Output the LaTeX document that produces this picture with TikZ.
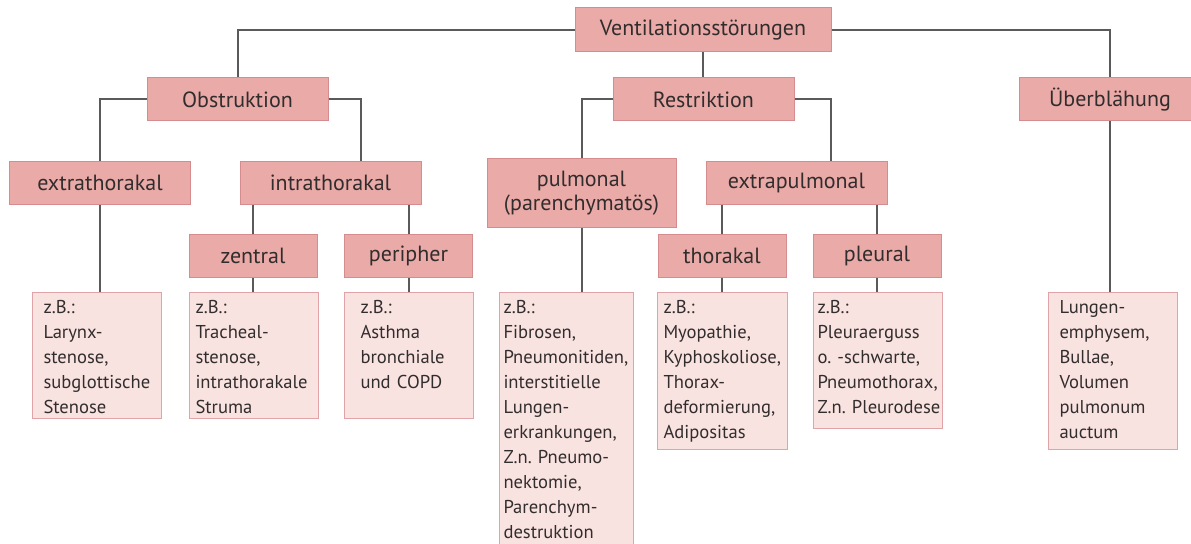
\documentclass[tikz,border=0pt]{standalone}
\usepackage{fontspec}
\setmainfont{PT Sans}
\usepackage{tikz}
\definecolor{kopf}{RGB}{233,170,168}
\definecolor{kopfrand}{RGB}{213,140,142}
\definecolor{blatt}{RGB}{249,227,225}
\definecolor{blattrand}{RGB}{224,163,168}
\definecolor{linie}{RGB}{90,90,90}
\definecolor{schrift}{RGB}{50,45,45}
\tikzstyle{kp}=[draw=kopfrand, fill=kopf, line width=0.5pt, inner sep=0pt, minimum width=90.5pt, minimum height=21.5pt, align=center, text=schrift, font=\fontsize{11}{12}\selectfont]
\tikzstyle{ukp}=[kp, minimum width=64pt]
\tikzstyle{bl}=[draw=blattrand, fill=blatt, line width=0.5pt, anchor=north west, inner ysep=0pt, text height=10.5pt, align=left, text=schrift, font=\fontsize{9.3}{12.5}\selectfont]
\tikzstyle{ln}=[draw=linie, line width=1pt]
\hyphenpenalty=10000
\exhyphenpenalty=10000
\frenchspacing

\begin{document}
\begin{tikzpicture} [x=0.5pt, y=-0.5pt]
%%position
\useasboundingbox (0,0) rectangle (1191,544);
\clip (0,0) rectangle (1191,544);
%%ebene 1
\node[kp, minimum width=128pt, minimum height=22pt] (vent) at (703,30) {Ventilationsstörungen};
%%ebene 2
\node[kp] (obst) at (237.5,99.5) {Obstruktion};
\node[kp] (restr) at (703.5,99.5) {Restriktion};
\node[kp] (ueber) at (1110,99.5) {Überblähung};
%%ebene 3
\node[kp] (extra) at (100,183) {extrathorakal};
\node[kp] (intra) at (330.5,183) {intrathorakal};
\node[kp, minimum width=94.5pt, minimum height=34.5pt] (pulm) at (581.5,193.5) {pulmonal\\(parenchymatös)};
\node[kp] (expul) at (796.5,183) {extrapulmonal};
%%ebene 4
\node[ukp] (zent) at (253,256) {zentral};
\node[ukp] (peri) at (408.5,256) {peripher};
\node[ukp] (thor) at (722,256) {thorakal};
\node[ukp] (pleu) at (877,256) {pleural};
%%beispiele
\node[bl, inner xsep=5.5pt, text width=53.5pt, text depth=52.5pt] (bextra) at (32,292) {z.B.:\\Larynx-\\stenose,\\subglottische\\Stenose};
\node[bl, inner xsep=3pt, text width=58.5pt, text depth=52.5pt] (bzent) at (189,292) {z.B.:\\Tracheal-\\stenose,\\intrathorakale\\Struma};
\node[bl, inner xsep=8pt, text width=48.5pt, text depth=52.5pt] (bperi) at (344,292) {z.B.:\\Asthma\\bronchiale\\und COPD};
\node[bl, inner xsep=2pt, text width=63pt, text depth=120pt] (bpulm) at (499,292) {z.B.:\\Fibrosen,\\Pneumonitiden,\\interstitielle\\Lungen-\\erkrankungen,\\Z.n.~Pneumo-\\nektomie,\\Parenchym-\\destruktion};
\node[bl, inner xsep=3pt, text width=59pt, text depth=68pt] (bthor) at (657,292) {z.B.:\\Myopathie,\\Kyphoskoliose,\\Thorax-\\deformierung,\\Adipositas};
\node[bl, inner xsep=2pt, text width=60.5pt, text depth=57.5pt] (bpleu) at (813,292) {z.B.:\\Pleuraerguss\\o.~-schwarte,\\Pneumothorax,\\Z.n.~Pleurodese};
\node[bl, inner xsep=5.5pt, text width=53.5pt, text depth=68pt] (bueber) at (1048,292) {Lungen-\\emphysem,\\Bullae,\\Volumen\\pulmonum\\auctum};
%%linien
\draw[ln] (vent.west) -| (obst.north);
\draw[ln] (vent.east) -| (ueber.north);
\draw[ln] (vent.south) -- (vent.south |- restr.north);
\draw[ln] (obst.west) -| (extra.north);
\draw[ln] (obst.east) -| ([xshift=15pt]intra.north);
\draw[ln] (restr.west) -| (pulm.north);
\draw[ln] (restr.east) -| ([xshift=17pt]expul.north);
\draw[ln] (zent.north |- intra.south) -- (zent.north);
\draw[ln] (peri.north |- intra.south) -- (peri.north);
\draw[ln] (thor.north |- expul.south) -- (thor.north);
\draw[ln] (pleu.north |- expul.south) -- (pleu.north);
\draw[ln] (extra.south) -- (extra.south |- bextra.north);
\draw[ln] (zent.south) -- (zent.south |- bzent.north);
\draw[ln] (peri.south) -- (peri.south |- bperi.north);
\draw[ln] (pulm.south) -- (pulm.south |- bpulm.north);
\draw[ln] (thor.south) -- (thor.south |- bthor.north);
\draw[ln] (pleu.south) -- (pleu.south |- bpleu.north);
\draw[ln] (ueber.south) -- (ueber.south |- bueber.north);
\end{tikzpicture}
\end{document}
